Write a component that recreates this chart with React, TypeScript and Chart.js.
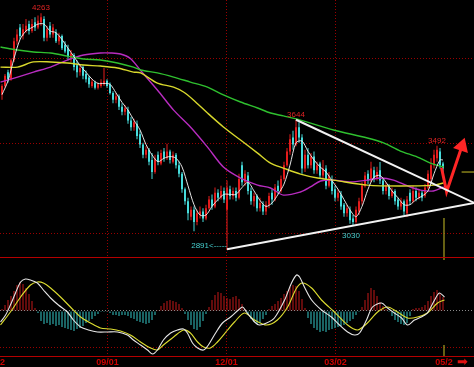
import React, { useEffect, useRef } from "react";
import { Chart, registerables } from "chart.js";

Chart.register(...registerables);

// ---------- candles (one per trading day, index 0..147) ----------
const opens = [
  3790, 3840, 3920, 3880, 3990, 4100, 4180, 4130, 4160, 4200,
  4160, 4210, 4180, 4210, 4230, 4120, 4190, 4140, 4150, 4100,
  4130, 4080, 4060, 4000, 4020, 3960, 3920, 3950, 3910, 3890,
  3840, 3860, 3830, 3840, 3850, 3870, 3850, 3800, 3760, 3780,
  3720, 3690, 3700, 3640, 3600, 3620, 3560, 3500, 3440, 3470,
  3410, 3340, 3440, 3390, 3460, 3420, 3460, 3400, 3440, 3380,
  3330, 3240, 3170, 3080, 3120, 3050, 3090, 3110, 3070, 3130,
  3180, 3140, 3220, 3190, 3230, 3120, 3240, 3200, 3230, 3190,
  3380, 3280, 3320, 3230, 3170, 3200, 3130, 3150, 3110, 3150,
  3220, 3180, 3260, 3230, 3300, 3380, 3460, 3540, 3500, 3600,
  3540, 3360, 3440, 3380, 3430, 3350, 3390, 3320, 3360, 3260,
  3300, 3240, 3190, 3210, 3150, 3100, 3120, 3070, 3050, 3110,
  3170, 3260, 3330, 3290, 3350, 3300, 3350, 3290, 3230, 3260,
  3200, 3230, 3180, 3140, 3170, 3100, 3220, 3170, 3230, 3190,
  3220, 3200, 3250, 3300, 3380, 3420, 3460, 3390,
];
const highs = [
  3850, 3910, 3935, 4000, 4120, 4170, 4200, 4200, 4230, 4220,
  4230, 4240, 4250, 4263, 4245, 4190, 4212, 4200, 4170, 4150,
  4140, 4100, 4080, 4050, 4030, 3990, 3960, 3960, 3930, 3900,
  3880, 3870, 3860, 3880, 3945, 3880, 3860, 3810, 3800, 3790,
  3740, 3730, 3720, 3660, 3650, 3640, 3580, 3510, 3490, 3480,
  3450, 3440, 3460, 3470, 3480, 3505, 3470, 3460, 3450, 3400,
  3340, 3250, 3190, 3140, 3140, 3120, 3140, 3130, 3150, 3200,
  3210, 3250, 3240, 3260, 3250, 3290, 3260, 3250, 3250, 3330,
  3400, 3350, 3340, 3250, 3220, 3210, 3190, 3170, 3170, 3220,
  3240, 3270, 3290, 3320, 3400, 3480, 3560, 3580, 3644, 3630,
  3560, 3470, 3480, 3450, 3460, 3400, 3400, 3410, 3380, 3340,
  3320, 3260, 3240, 3230, 3160, 3150, 3140, 3090, 3140, 3190,
  3280, 3340, 3350, 3400, 3370, 3370, 3398, 3300, 3280, 3270,
  3250, 3240, 3190, 3190, 3180, 3200, 3240, 3260, 3250, 3240,
  3230, 3270, 3350, 3420, 3470, 3492, 3480, 3400,
];
const lows = [
  3760, 3830, 3860, 3870, 3980, 4080, 4110, 4110, 4150, 4140,
  4150, 4160, 4170, 4190, 4100, 4100, 4120, 4120, 4090, 4080,
  4050, 4030, 3990, 3980, 3930, 3890, 3900, 3880, 3860, 3830,
  3830, 3820, 3820, 3830, 3840, 3830, 3790, 3740, 3740, 3700,
  3670, 3670, 3620, 3580, 3580, 3530, 3480, 3420, 3420, 3380,
  3300, 3330, 3380, 3380, 3400, 3410, 3390, 3390, 3360, 3310,
  3220, 3150, 3060, 3060, 2995, 3030, 3070, 3050, 3060, 3120,
  3120, 3130, 3170, 3180, 3160, 2891, 3180, 3180, 3170, 3180,
  3260, 3260, 3210, 3150, 3140, 3110, 3110, 3090, 3090, 3130,
  3150, 3170, 3210, 3220, 3290, 3370, 3440, 3470, 3490, 3510,
  3330, 3340, 3360, 3360, 3330, 3330, 3300, 3300, 3240, 3250,
  3210, 3170, 3170, 3120, 3080, 3080, 3040, 3030, 3040, 3090,
  3150, 3250, 3270, 3280, 3280, 3290, 3270, 3210, 3210, 3180,
  3190, 3150, 3120, 3120, 3090, 3078, 3150, 3160, 3170, 3180,
  3170, 3190, 3240, 3280, 3360, 3400, 3360, 3340,
];
const closes = [
  3840, 3900, 3880, 3990, 4100, 4140, 4130, 4170, 4190, 4160,
  4200, 4180, 4220, 4240, 4120, 4170, 4140, 4180, 4100, 4130,
  4060, 4040, 4010, 4030, 3950, 3920, 3945, 3900, 3880, 3850,
  3865, 3830, 3850, 3860, 3870, 3840, 3800, 3760, 3780, 3720,
  3690, 3710, 3640, 3600, 3630, 3550, 3500, 3440, 3470, 3400,
  3340, 3420, 3400, 3450, 3420, 3460, 3410, 3440, 3380, 3330,
  3240, 3170, 3100, 3120, 3050, 3100, 3110, 3070, 3130, 3180,
  3140, 3220, 3190, 3230, 3180, 3250, 3200, 3230, 3190, 3300,
  3280, 3330, 3230, 3170, 3200, 3130, 3160, 3110, 3150, 3200,
  3180, 3250, 3230, 3300, 3380, 3460, 3530, 3500, 3600, 3540,
  3360, 3440, 3380, 3430, 3350, 3380, 3320, 3360, 3260, 3320,
  3230, 3190, 3220, 3140, 3100, 3130, 3060, 3050, 3120, 3170,
  3260, 3320, 3290, 3360, 3300, 3340, 3290, 3230, 3260, 3200,
  3230, 3170, 3140, 3170, 3110, 3180, 3170, 3230, 3190, 3220,
  3190, 3250, 3330, 3380, 3440, 3470, 3380, 3360,
];

// ---------- moving averages ----------
const ma5Idx = [
  0, 2, 4, 6, 8, 10, 12, 14, 16, 18, 20, 22, 24, 26, 28, 30, 32, 34, 36, 38,
  40, 42, 44, 46, 48, 50, 52, 54, 56, 58, 60, 62, 64, 66, 68, 70, 72, 74, 76, 78,
  80, 82, 84, 86, 88, 90, 92, 94, 96, 98, 100, 102, 104, 106, 108, 110, 112, 114, 116, 118,
  120, 122, 124, 126, 128, 130, 132, 134, 136, 138, 140, 142, 144, 146, 147,
];
const ma5Vals = [
  3790, 3870, 4000, 4110, 4160, 4180, 4200, 4200, 4160, 4150, 4110, 4060, 4010, 3960, 3920, 3880, 3855, 3855, 3850, 3800,
  3745, 3700, 3640, 3585, 3500, 3440, 3400, 3420, 3430, 3420, 3370, 3260, 3150, 3090, 3090, 3140, 3180, 3210, 3210, 3210,
  3250, 3280, 3230, 3175, 3140, 3160, 3210, 3270, 3380, 3510, 3520, 3460, 3410, 3370, 3340, 3290, 3240, 3180, 3120, 3080,
  3140, 3240, 3310, 3320, 3280, 3230, 3190, 3150, 3150, 3180, 3200, 3230, 3330, 3410, 3410,
];
const greenIdx = [-0.5, 5.2, 10.5, 16.2, 21.8, 27.2, 32.8, 38.5, 43.8, 46.2, 51.8, 57.2, 62.8, 68.5, 73.8, 79.5, 85.2, 89.5, 93.8, 99.5, 110.5, 121.8, 127.2, 132.8, 138.5, 142.8, 147.2];
const greenVals = [4067, 4049, 4038, 4032, 4014, 3997, 3991, 3974, 3950, 3933, 3916, 3892, 3863, 3834, 3788, 3747, 3712, 3683, 3666, 3642, 3584, 3538, 3509, 3462, 3427, 3392, 3369];
const yellowIdx = [-0.5, 5.2, 10.5, 16.2, 21.8, 27.2, 32.8, 38.5, 43.8, 46.2, 51.8, 57.2, 60.5, 63.8, 68.5, 73.8, 79.5, 85.2, 89.5, 93.8, 99.5, 105.2, 110.5, 121.8, 132.8, 143.8, 147.2];
const yellowVals = [3950, 3950, 3980, 3980, 3974, 3962, 3956, 3945, 3921, 3916, 3857, 3834, 3805, 3759, 3683, 3602, 3526, 3450, 3392, 3363, 3328, 3305, 3293, 3264, 3259, 3264, 3276];
const magentaIdx = [-0.5, 5.2, 10.5, 16.2, 21.8, 27.2, 32.8, 36.2, 39.5, 42.8, 46.2, 51.8, 57.2, 62.8, 68.5, 73.8, 79.5, 85.2, 89.5, 93.8, 99.5, 102.8, 106.2, 110.5, 116.2, 121.8, 126.2, 130.5, 135.2, 139.5, 143.8, 147.2];
const magentaVals = [3863, 3892, 3921, 3950, 3991, 4020, 4032, 4032, 4026, 4000, 3930, 3817, 3700, 3602, 3485, 3369, 3305, 3264, 3247, 3206, 3224, 3253, 3288, 3293, 3282, 3293, 3305, 3293, 3259, 3235, 3230, 3253];

// ---------- drawn trend lines / arrow / cursor ----------
const upperTrendIdx = [98, 157.5];
const upperTrendVals = [3644, 3160];
const lowerTrendIdx = [75, 157.5];
const lowerTrendVals = [2891, 3160];
const arrowIdx = [146.5, 148.2, 153.3];
const arrowVals = [3365, 3225, 3490];
const cursorIdx = 147.33;
const cursorLowVals = [3073, 2846];
const cursorMarkIdx = [153.2, 157.5];
const cursorMarkVals = [3340, 3340];
const cursorLabel = "05/2";

// ---------- annotations ----------
const annIdx = [13, 98, 145, 117, 75];
const annVals = [4263, 3644, 3492, 3030, 2891];
const annTexts = ["4263", "3644", "3492", "3030", "2891<-----"];
const annKinds = ["high", "high", "high", "low", "lowLeft"];

// ---------- MACD ----------
const macdHist = [
  4, 12, 22, 30, 40, 52, 58, 54, 46, 34,
  20, 6, -4, -20, -26, -24, -28, -26, -30, -28,
  -32, -34, -36, -38, -40, -36, -34, -30, -24, -20,
  -16, -10, -6, -2, -2, -2, -4, -8, -8, -10,
  -8, -8, -10, -14, -16, -20, -22, -24, -26, -24,
  -18, -8, 2, 10, 16, 20, 22, 20, 18, 14,
  6, -6, -18, -28, -36, -38, -32, -20, -6, 8,
  22, 32, 38, 36, 30, 26, 24, 28, 30, 24,
  14, 4, -8, -16, -22, -26, -24, -16, -8, 4,
  10, 14, 20, 26, 34, 40, 48, 52, 50, 40,
  24, 6, -14, -26, -34, -38, -42, -40, -42, -38,
  -36, -34, -32, -30, -28, -24, -20, -16, -8, -2,
  8, 22, 36, 46, 42, 30, 18, 10, 4, -2,
  -10, -18, -22, -26, -28, -24, -10, 4, 6, 6,
  8, 12, 20, 30, 38, 42, 36, 28,
];
const difIdx = [
  -0.5, 1.2, 2.8, 4.5, 6.2, 7.8, 9.5, 11.8, 13.8, 16.2,
  18.8, 21.8, 23.8, 26.2, 28.8, 31.8, 35.2, 38.5, 41.8, 43.8,
  46.2, 48.5, 50.2, 51.8, 53.8, 56.2, 58.5, 60.5, 61.8, 63.5,
  65.2, 67.2, 68.8, 71.2, 73.5, 76.2, 78.8, 80.2, 81.5, 84.2,
  85.8, 88.2, 90.8, 94.2, 96.5, 98.2, 99.2, 100.8, 103.2, 106.5,
  109.8, 112.5, 115.2, 117.5, 119.2, 121.5, 123.5, 126.5, 128.5, 130.8,
  133.2, 135.2, 137.5, 139.8, 141.8, 144.2, 145.8, 147.5,
];
const difVals = [
  -22, -8, 12, 36, 58, 64, 62, 56, 42, 26,
  12, -2, -18, -32, -38, -42, -42, -42, -48, -58,
  -68, -78, -86, -78, -58, -44, -38, -36, -44, -64,
  -74, -78, -68, -44, -24, -12, 2, 8, -2, -22,
  -28, -24, -14, 22, 56, 72, 68, 48, 22, 2,
  -12, -28, -42, -48, -44, -18, 8, 16, 6, -4,
  -14, -28, -18, -12, -4, 22, 36, 28,
];
const deaIdx = [
  -0.5, 2.8, 6.2, 9.5, 11.8, 13.8, 16.2, 19.5, 22.8, 26.2,
  29.5, 32.8, 36.2, 39.5, 42.8, 46.2, 49.5, 51.8, 53.8, 57.2,
  60.5, 62.8, 65.2, 67.2, 69.5, 71.8, 75.2, 77.5, 80.8, 84.2,
  88.2, 91.8, 95.2, 98.2, 100.2, 103.2, 106.5, 110.8, 115.2, 118.5,
  121.8, 125.2, 128.5, 131.8, 135.2, 138.5, 141.8, 145.2, 147.5,
];
const deaVals = [
  -28, -2, 28, 52, 58, 56, 46, 28, 8, -12,
  -24, -34, -36, -40, -48, -62, -74, -78, -68, -52,
  -38, -44, -62, -72, -74, -62, -38, -22, -4, -18,
  -28, -18, 8, 46, 56, 46, 22, -2, -28, -38,
  -24, -2, 8, -2, -14, -12, -4, 16, 22,
];
const cursorMacdTop = [108, 102];
const cursorMacdBottom = [-68, -90];

// ---------- axes ----------
const dateGridIdx = [35.17, 74.83, 111.17];
const dateLabels = ["09/01", "12/01", "03/02"];
const leftPartialLabel = "2";
const priceGridVals = [2985, 3503, 4000];
const macdGridVals = [-72, 0];

const X_MIN = -2 / 3;
const X_MAX = 158 - 2 / 3;
const PRICE_MIN = 2846;
const PRICE_MAX = 4340;
const MACD_MIN = -90;
const MACD_MAX = 108;

const GRID = "#9a0000";
const SEP = "#b40000";
const UP = "#e41c1c";
const DOWN = "#46dcdc";

const pts = (idx: number[], vals: number[]) => idx.map((x, i) => ({ x, y: vals[i] }));

const lineDs = (label: string, data: any[], color: string, width: number, order: number, extra: any = {}) => ({
  type: "line" as const,
  label,
  data,
  borderColor: color,
  backgroundColor: color,
  borderWidth: width,
  pointRadius: 0,
  tension: 0.3,
  order,
  ...extra,
});

const hiddenX = (ticks: number[]) => ({
  type: "linear" as const,
  min: X_MIN,
  max: X_MAX,
  offset: false,
  ticks: { display: false },
  grid: { color: GRID, drawTicks: false, offset: false, lineWidth: 1 },
  border: { display: false, dash: [1, 2] },
  afterBuildTicks: (s: any) => {
    s.ticks = ticks.map((v) => ({ value: v }));
  },
});

export default function App() {
  const mainRef = useRef<HTMLCanvasElement | null>(null);
  const macdRef = useRef<HTMLCanvasElement | null>(null);

  useEffect(() => {
    const candleColors = closes.map((c, i) => (c >= opens[i] ? UP : DOWN));
    const bodies = closes.map((c, i) => ({ x: i, y: [opens[i], c] }));
    const wicks = closes.map((_, i) => ({ x: i, y: [lows[i], highs[i]] }));

    const annotationPlugin = {
      id: "annotations",
      afterDatasetsDraw(chart: any) {
        const { ctx, scales } = chart;
        const xs = scales.x;
        const ys = scales.y;
        ctx.save();
        ctx.font = "8px 'Liberation Sans', Arial, sans-serif";
        annIdx.forEach((idx, k) => {
          const px = xs.getPixelForValue(idx);
          const py = ys.getPixelForValue(annVals[k]);
          const kind = annKinds[k];
          if (kind === "high") {
            ctx.fillStyle = "#e02424";
            ctx.textAlign = "center";
            ctx.textBaseline = "alphabetic";
            ctx.fillText(annTexts[k], px, py - 3);
          } else if (kind === "low") {
            ctx.fillStyle = "#44cccc";
            ctx.textAlign = "center";
            ctx.textBaseline = "top";
            ctx.fillText(annTexts[k], px - 2, py + 6);
          } else {
            ctx.fillStyle = "#44cccc";
            ctx.textAlign = "right";
            ctx.textBaseline = "middle";
            ctx.fillText(annTexts[k], px, py - 3);
          }
        });
        ctx.restore();
      },
    };

    const main = new Chart(mainRef.current as HTMLCanvasElement, {
      type: "bar",
      data: {
        datasets: [
          lineDs("upper", pts(upperTrendIdx, upperTrendVals), "#f2f2f2", 2, 0, { tension: 0 }),
          lineDs("lower", pts(lowerTrendIdx, lowerTrendVals), "#f2f2f2", 2, 0, { tension: 0 }),
          lineDs("arrow", pts(arrowIdx, arrowVals), "#ff2626", 3, 0, {
            tension: 0,
            pointRadius: [0, 0, 6],
            pointStyle: "triangle",
            pointRotation: [0, 0, 18],
            pointBackgroundColor: "#ff2626",
            pointBorderColor: "#ff2626",
          }),
          lineDs("MA5", pts(ma5Idx, ma5Vals), "#e4e4e4", 1, 1),
          lineDs("MAgreen", pts(greenIdx, greenVals), "#2fc02f", 1.4, 2),
          lineDs("MAyellow", pts(yellowIdx, yellowVals), "#d8d82c", 1.4, 2),
          lineDs("MAmagenta", pts(magentaIdx, magentaVals), "#b82cc0", 1.4, 2),
          {
            type: "bar" as const,
            label: "body",
            data: bodies as any,
            backgroundColor: candleColors,
            barThickness: 2,
            grouped: false,
            inflateAmount: 0,
            order: 5,
          },
          {
            type: "bar" as const,
            label: "wick",
            data: wicks as any,
            backgroundColor: candleColors,
            barThickness: 1,
            grouped: false,
            inflateAmount: 0,
            order: 6,
          },
          lineDs("cursorV", pts([cursorIdx, cursorIdx], cursorLowVals), "#a8a020", 1.2, 7, { tension: 0 }),
          lineDs("cursorH", pts(cursorMarkIdx, cursorMarkVals), "#a8a020", 1.2, 7, { tension: 0 }),
        ] as any,
      },
      options: {
        responsive: false,
        animation: false,
        events: [],
        layout: { padding: 0, autoPadding: false },
        plugins: { legend: { display: false }, tooltip: { enabled: false } },
        scales: {
          x: hiddenX(dateGridIdx) as any,
          y: {
            type: "linear",
            min: PRICE_MIN,
            max: PRICE_MAX,
            ticks: { display: false },
            grid: { color: GRID, drawTicks: false, lineWidth: 1 },
            border: { display: false, dash: [1, 2] },
            afterBuildTicks: (s: any) => {
              s.ticks = priceGridVals.map((v) => ({ value: v }));
            },
          } as any,
        },
      },
      plugins: [annotationPlugin],
    });

    const macdFramePlugin = {
      id: "macdFrame",
      afterDraw(chart: any) {
        const { ctx, chartArea, scales } = chart;
        const xs = scales.x;
        const w = chart.width;
        ctx.save();
        ctx.strokeStyle = SEP;
        ctx.lineWidth = 1;
        ctx.beginPath();
        ctx.moveTo(0, 0.5);
        ctx.lineTo(w, 0.5);
        ctx.moveTo(0, Math.round(chartArea.bottom) + 0.5);
        ctx.lineTo(w, Math.round(chartArea.bottom) + 0.5);
        ctx.stroke();
        const ly = chartArea.bottom + 7;
        ctx.font = "bold 9px 'Liberation Sans', Arial, sans-serif";
        ctx.fillStyle = "#cc0000";
        ctx.textBaseline = "middle";
        ctx.textAlign = "center";
        dateGridIdx.forEach((v, k) => {
          ctx.fillText(dateLabels[k], xs.getPixelForValue(v), ly);
        });
        ctx.fillText(cursorLabel, xs.getPixelForValue(cursorIdx), ly);
        ctx.textAlign = "left";
        ctx.fillText(leftPartialLabel, 0, ly);
        ctx.font = "13px 'DejaVu Sans', sans-serif";
        ctx.fillStyle = "#e01010";
        ctx.fillText("\u27A1", xs.getPixelForValue(cursorIdx) + 13, ly);
        ctx.restore();
      },
    };

    const macd = new Chart(macdRef.current as HTMLCanvasElement, {
      type: "bar",
      data: {
        datasets: [
          lineDs("DIF", pts(difIdx, difVals), "#e6e6e6", 1.1, 0),
          lineDs("DEA", pts(deaIdx, deaVals), "#dede30", 1.1, 1),
          {
            type: "bar" as const,
            label: "MACD",
            data: macdHist.map((v, i) => ({ x: i, y: v })) as any,
            backgroundColor: macdHist.map((v) => (v >= 0 ? "#c41818" : "#34c6c6")),
            barThickness: 1,
            grouped: false,
            inflateAmount: 0,
            order: 3,
          },
          lineDs("cursorTop", pts([cursorIdx, cursorIdx], cursorMacdTop), "#a8a020", 1.2, 4, { tension: 0 }),
          lineDs("cursorBottom", pts([cursorIdx, cursorIdx], cursorMacdBottom), "#a8a020", 1.2, 4, { tension: 0 }),
        ] as any,
      },
      options: {
        responsive: false,
        animation: false,
        events: [],
        layout: { padding: { left: 0, right: 0, top: 0, bottom: 11 }, autoPadding: false },
        plugins: { legend: { display: false }, tooltip: { enabled: false } },
        scales: {
          x: hiddenX(dateGridIdx) as any,
          y: {
            type: "linear",
            min: MACD_MIN,
            max: MACD_MAX,
            ticks: { display: false },
            grid: {
              color: (c: any) => (c.tick && c.tick.value === 0 ? "#8a8a8a" : GRID),
              drawTicks: false,
              lineWidth: 1,
            },
            border: { display: false, dash: [1, 2] },
            afterBuildTicks: (s: any) => {
              s.ticks = macdGridVals.map((v) => ({ value: v }));
            },
          } as any,
        },
      },
      plugins: [macdFramePlugin],
    });

    return () => {
      main.destroy();
      macd.destroy();
    };
  }, []);

  return (
    <div
      style={{
        position: "fixed",
        left: 0,
        top: 0,
        width: 474,
        height: 367,
        background: "#000",
        overflow: "hidden",
      }}
    >
      <canvas
        ref={mainRef}
        width={474}
        height={257}
        style={{ position: "absolute", left: 0, top: 0, width: 474, height: 257 }}
      />
      <canvas
        ref={macdRef}
        width={474}
        height={110}
        style={{ position: "absolute", left: 0, top: 257, width: 474, height: 110 }}
      />
    </div>
  );
}
